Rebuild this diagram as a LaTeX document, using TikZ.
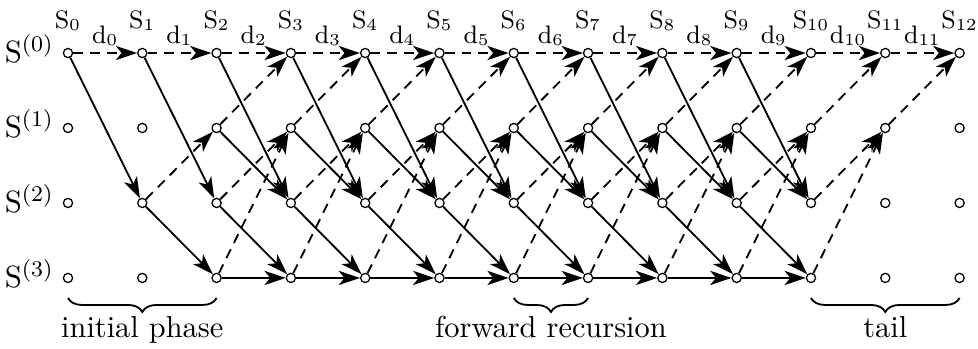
\documentclass[tikz,border=0pt]{standalone}
\usepackage{amsmath}
\usepackage{tikz}
\usetikzlibrary{arrows.meta, positioning, calc, decorations.pathreplacing}

\begin{document}
\begin{tikzpicture}[x=0.929cm, y=-0.9375cm,
    zustand/.style={circle, draw, fill=white, line width=0.45pt, inner sep=0pt, minimum size=1.15mm},
    pfeil/.style={-{Stealth[length=7.5pt,width=5pt,inset=2pt]}, line width=0.65pt},
    nullpfeil/.style={pfeil, dash pattern=on 3.5pt off 2.5pt},
    einspfeil/.style={pfeil},
    waag/.style={line width=1pt},
    gross/.style={font=\fontsize{10.8}{13}\selectfont},
    klammer/.style={decorate, decoration={brace, mirror, amplitude=5pt}, line width=0.65pt}]
  \useasboundingbox (-0.915,-0.707) rectangle (12.248,3.947);
  % Zustaende
  \foreach \k in {0,...,12}
    \foreach \r in {0,...,3}
      \node[zustand] (s-\k-\r) at (\k,\r) {};
  % Beschriftung
  \foreach \k in {0,...,12}
    \node[anchor=base, font=\small] (lab-\k) at (\k,-0.333) {$\mathrm{S}_{\k}$};
  \foreach \k in {0,...,11}
    \node[anchor=base, font=\small] (dat-\k) at (\k+0.5,-0.133) {$\mathrm{d}_{\k}$};
  \foreach \r in {0,...,3}
    \node[anchor=base, gross] (zeile-\r) at (-0.52,\r+0.133) {$\mathrm{S}^{(\r)}$};
  % Anlaufphase
  \draw[nullpfeil, waag] (s-0-0) -- (s-1-0);
  \draw[einspfeil] (s-0-0) -- (s-1-2);
  \draw[nullpfeil, waag] (s-1-0) -- (s-2-0);
  \draw[einspfeil] (s-1-0) -- (s-2-2);
  \draw[nullpfeil] (s-1-2) -- (s-2-1);
  \draw[einspfeil] (s-1-2) -- (s-2-3);
  % Vorwaertsrekursion
  \foreach \k in {2,...,9} {
    \pgfmathtruncatemacro{\n}{\k+1}
    \draw[nullpfeil, waag] (s-\k-0) -- (s-\n-0);
    \draw[nullpfeil] (s-\k-1) -- (s-\n-0);
    \draw[nullpfeil] (s-\k-2) -- (s-\n-1);
    \draw[nullpfeil] (s-\k-3) -- (s-\n-1);
    \draw[einspfeil] (s-\k-0) -- (s-\n-2);
    \draw[einspfeil] (s-\k-1) -- (s-\n-2);
    \draw[einspfeil] (s-\k-2) -- (s-\n-3);
    \draw[einspfeil, waag] (s-\k-3) -- (s-\n-3);
  }
  % Ende (nur Nullen)
  \draw[nullpfeil, waag] (s-10-0) -- (s-11-0);
  \draw[nullpfeil] (s-10-1) -- (s-11-0);
  \draw[nullpfeil] (s-10-2) -- (s-11-1);
  \draw[nullpfeil] (s-10-3) -- (s-11-1);
  \draw[nullpfeil, waag] (s-11-0) -- (s-12-0);
  \draw[nullpfeil] (s-11-1) -- (s-12-0);
  % Klammern
  \draw[klammer] ([yshift=-2.5mm]s-0-3.center) -- ([yshift=-2.5mm]s-2-3.center);
  \draw[klammer] ([yshift=-2.5mm]s-6-3.center) -- ([yshift=-2.5mm]s-7-3.center);
  \draw[klammer] ([yshift=-2.5mm]s-10-3.center) -- ([yshift=-2.5mm]s-12-3.center);
  \node[anchor=base, gross] (anlauf) at (1,3.8) {initial phase};
  \node[anchor=base, gross] (rekursion) at (6.5,3.8) {forward recursion};
  \node[anchor=base, gross] (ende) at (11,3.8) {tail};
\end{tikzpicture}
\end{document}
